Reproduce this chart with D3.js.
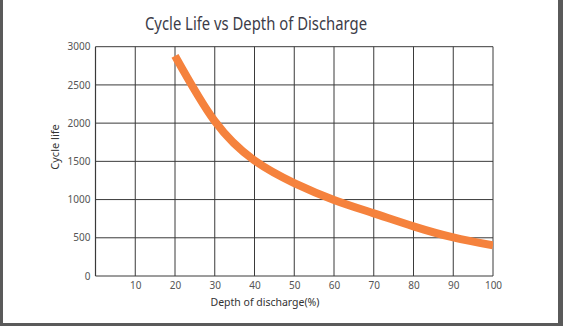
<!DOCTYPE html>
<html><head><meta charset="utf-8">
<script src="https://cdn.jsdelivr.net/npm/d3@7"></script>
<style>html,body{margin:0;padding:0;background:#fff;}svg{display:block;}</style>
</head><body>
<script>
const depth = [20, 30, 40, 50, 60, 70, 80, 90, 100];
const cycles = [2880, 2025, 1510, 1215, 995, 820, 650, 505, 400];
const xTicks = [10, 20, 30, 40, 50, 60, 70, 80, 90, 100];
const yTicks = [0, 500, 1000, 1500, 2000, 2500, 3000];

const W = 563, H = 326;
const svg = d3.select("body").append("svg").attr("width", W).attr("height", H);
svg.append("rect").attr("width", W).attr("height", H).attr("fill", "#fff");
// outer frame
svg.append("rect").attr("x", 0).attr("y", 0).attr("width", 3).attr("height", H).attr("fill", "#5a5a5a");
svg.append("rect").attr("x", 558).attr("y", 0).attr("width", 5).attr("height", H).attr("fill", "#5a5a5a");
svg.append("rect").attr("x", 0).attr("y", 323).attr("width", W).attr("height", 3).attr("fill", "#5a5a5a");

const x = d3.scaleLinear().domain([0, 100]).range([95.5, 493]);
const y = d3.scaleLinear().domain([0, 3000]).range([276, 46.7]);
const font = "'Noto Sans', sans-serif";

const g = svg.append("g");
// grid
g.selectAll(".vg").data(xTicks).join("line")
  .attr("x1", d => x(d)).attr("x2", d => x(d)).attr("y1", y(0)).attr("y2", y(3000))
  .attr("stroke", "#3a3a3a").attr("stroke-width", 1);
g.selectAll(".hg").data(yTicks).join("line")
  .attr("x1", x(0)).attr("x2", x(100)).attr("y1", d => y(d)).attr("y2", d => y(d))
  .attr("stroke", "#3a3a3a").attr("stroke-width", 1);
g.append("line").attr("x1", x(0)).attr("x2", x(0)).attr("y1", y(0)).attr("y2", y(3000))
  .attr("stroke", "#3a3a3a").attr("stroke-width", 1.2);

// axes labels
const xAxis = d3.axisBottom(x).tickValues(xTicks).tickSize(0).tickPadding(6);
const xa = svg.append("g").attr("transform", `translate(0,${y(0)})`).call(xAxis);
xa.select(".domain").remove();
xa.selectAll("text").attr("font-family", font).attr("font-size", 10).attr("fill", "#555");

const yAxis = d3.axisLeft(y).tickValues(yTicks).tickSize(0).tickPadding(5).tickFormat(d3.format("d"));
const ya = svg.append("g").attr("transform", `translate(${x(0)},0)`).call(yAxis);
ya.select(".domain").remove();
ya.selectAll("text").attr("font-family", font).attr("font-size", 10).attr("fill", "#555");

// curve
svg.append("clipPath").attr("id", "c").append("rect")
  .attr("x", x(0)).attr("y", 0).attr("width", x(100) - x(0)).attr("height", H);
const line = d3.line().x((d, i) => x(depth[i])).y(d => y(d)).curve(d3.curveNatural);
svg.append("path").attr("clip-path", "url(#c)").datum(cycles).attr("d", line)
  .attr("fill", "none").attr("stroke", "#f5823d").attr("stroke-width", 8);

// titles
svg.append("text").attr("x", 256).attr("y", 30).attr("text-anchor", "middle")
  .attr("font-family", font).attr("font-size", 18).attr("fill", "#3c3c48")
  .attr("textLength", 222).attr("lengthAdjust", "spacingAndGlyphs")
  .text("Cycle Life vs Depth of Discharge");
svg.append("text").attr("x", 265).attr("y", 306).attr("text-anchor", "middle")
  .attr("font-family", font).attr("font-size", 10.5).attr("fill", "#333")
  .text("Depth of discharge(%)");
svg.append("text").attr("transform", "translate(59,147) rotate(-90)").attr("text-anchor", "middle")
  .attr("font-family", font).attr("font-size", 11).attr("fill", "#333")
  .text("Cycle life");
</script>
</body></html>
